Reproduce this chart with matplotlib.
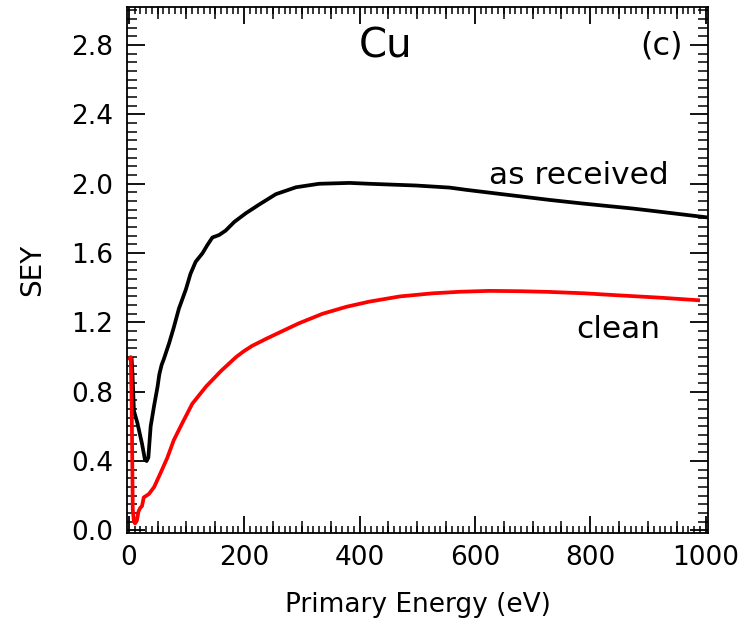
import matplotlib
matplotlib.use("Agg")
import matplotlib.pyplot as plt
from matplotlib.ticker import MultipleLocator, FormatStrFormatter

plt.rcParams['font.family'] = ['DejaVu Sans']

# As-received Cu
energy_received = [5, 6.5, 9, 15, 23, 28, 31, 34, 38, 44, 50, 53, 57, 61, 70, 78, 87, 99, 107,
                   116, 128, 136, 145, 157, 168, 183, 203, 226, 255, 290, 330, 383, 417,
                   498, 556, 585, 642, 672, 729, 787, 874, 930, 1000]
sey_received = [0.99, 0.90, 0.69, 0.62, 0.50, 0.41, 0.40, 0.42, 0.60, 0.72, 0.83, 0.90, 0.955,
                0.99, 1.08, 1.17, 1.28, 1.39, 1.48, 1.55, 1.60, 1.645, 1.69, 1.705, 1.73, 1.78,
                1.83, 1.88, 1.94, 1.98, 2.00, 2.005, 2.00, 1.99, 1.978, 1.965, 1.942, 1.93,
                1.907, 1.886, 1.857, 1.835, 1.807]

# Clean Cu
energy_clean = [2, 3.5, 5, 6, 7, 9, 11, 14, 17, 20, 23, 26, 35, 44, 55, 67, 78, 93, 110,
                134, 160, 186, 200, 214, 238, 260, 295, 336, 377, 417, 470, 527, 575, 625,
                680, 729, 790, 845, 920, 987]
sey_clean = [0.99, 1.00, 0.75, 0.45, 0.12, 0.05, 0.04, 0.055, 0.11, 0.13, 0.14, 0.19, 0.21,
             0.25, 0.33, 0.42, 0.52, 0.62, 0.73, 0.83, 0.92, 1.00, 1.035, 1.065, 1.105, 1.14,
             1.195, 1.25, 1.29, 1.32, 1.35, 1.368, 1.377, 1.382, 1.38, 1.376, 1.368, 1.357,
             1.343, 1.328]

x_major = [0, 200, 400, 600, 800, 1000]
x_medium = [50, 100, 150, 250, 300, 350, 450, 500, 550, 650, 700, 750, 850, 900, 950]

fig = plt.figure(figsize=(7.44, 6.26), dpi=100)
ax = fig.add_axes([0.1707, 0.1486, 0.7809, 0.8402])

ax.plot(energy_received, sey_received, color='black', lw=2.7, solid_joinstyle='round')
ax.plot(energy_clean, sey_clean, color='#ff0000', lw=2.7, solid_joinstyle='round')

ax.set_xlim(-3, 1004)
ax.set_ylim(-0.015, 3.02)

ax.set_xticks(x_major)
ax.xaxis.set_minor_locator(MultipleLocator(10))
ax.yaxis.set_major_locator(MultipleLocator(0.4))
ax.yaxis.set_minor_locator(MultipleLocator(0.05))
ax.yaxis.set_major_formatter(FormatStrFormatter('%.1f'))

ax.tick_params(which='major', direction='in', length=12, width=1.3, top=True, right=True,
               labelsize=19, pad=9)
ax.tick_params(which='minor', direction='in', length=5, width=1.1, top=True, right=True)
ax.tick_params(axis='y', which='major', length=13, pad=10)
ax.tick_params(axis='y', which='minor', length=7)

for loc in ('bottom', 'top'):
    sec = ax.secondary_xaxis(loc)
    sec.set_xticks(x_medium)
    sec.tick_params(direction='in', length=8.5, width=1.1, labelbottom=False,
                    labeltop=False)
    for s in sec.spines.values():
        s.set_visible(False)

for s in ax.spines.values():
    s.set_linewidth(1.3)

ax.set_xlabel('Primary Energy (eV)', fontsize=19, labelpad=15)
ax.set_ylabel('SEY', fontsize=20, labelpad=18)

ax.text(445, 2.73, 'Cu', fontsize=29, ha='center', va='baseline')
ax.text(924, 2.795, '(c)', fontsize=23, ha='center', va='center')
ax.text(780, 2.0, 'as received', fontsize=22.5, ha='center', va='baseline')
ax.text(849, 1.108, 'clean', fontsize=22.5, ha='center', va='baseline')

fig.savefig('out.png', dpi=100)
